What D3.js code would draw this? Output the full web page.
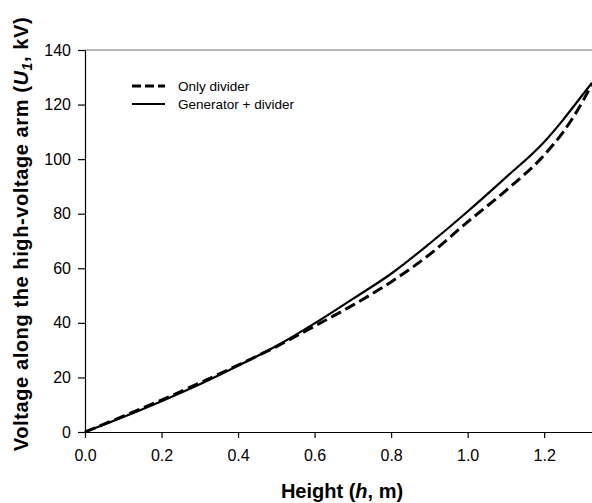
<!DOCTYPE html>
<html>
<head>
<meta charset="utf-8">
<script src="https://cdn.jsdelivr.net/npm/d3@7"></script>
<style>
  body { margin: 0; background: #fff; }
  svg text { font-family: "Liberation Sans", Arial, sans-serif; }
</style>
</head>
<body>
<div id="plot"></div>
<script>
// data
const heights = [0, 0.1, 0.2, 0.3, 0.4, 0.5, 0.6, 0.7, 0.8, 0.9, 1.0, 1.1, 1.2, 1.25, 1.3, 1.325];
const onlyDivider = [0, 5.8, 11.7, 18, 24.5, 31.3, 38.8, 46.5, 55, 65, 77, 88.5, 101.5, 110, 121, 127.5];
const generatorDivider = [0, 5.5, 11.3, 17.5, 24.3, 31.5, 39.8, 48.8, 58, 69, 80.8, 93.3, 106.3, 114.5, 123.5, 128];
const xTicks = [0, 0.2, 0.4, 0.6, 0.8, 1.0, 1.2];
const yTicks = [0, 20, 40, 60, 80, 100, 120, 140];
const legendLabels = ["Only divider", "Generator + divider"];

const width = 592,
  height = 503;
const margin = { top: 50, right: 0, bottom: 71, left: 85 };

const svg = d3.select("#plot").append("svg").attr("width", width).attr("height", height);

const x = d3.scaleLinear().domain([0, 1.325]).range([margin.left, width - margin.right]);
const y = d3.scaleLinear().domain([0, 140]).range([height - margin.bottom, margin.top]);

// top frame line
svg.append("line")
  .attr("x1", x(0)).attr("x2", width)
  .attr("y1", y(140)).attr("y2", y(140))
  .attr("stroke", "#707070").attr("stroke-width", 1.2);

const xAxis = svg.append("g")
  .attr("transform", `translate(0,${y(0)})`)
  .call(d3.axisBottom(x).tickValues(xTicks).tickFormat(d3.format(".1f")).tickSize(6).tickSizeOuter(0));
const yAxis = svg.append("g")
  .attr("transform", `translate(${x(0)},0)`)
  .call(d3.axisLeft(y).tickValues(yTicks).tickSize(7).tickSizeOuter(0));

[xAxis, yAxis].forEach(g => {
  g.select(".domain").attr("stroke", "#000").attr("stroke-width", 1.2);
  g.selectAll(".tick line").attr("stroke", "#000").attr("stroke-width", 1.2);
  g.selectAll(".tick text").attr("fill", "#000").style("font-size", "16px");
});
xAxis.selectAll(".tick text").attr("dy", "0.71em").attr("y", 18);
yAxis.selectAll(".tick text").attr("x", -14);

const line = d3.line()
  .x((d, i) => x(heights[i]))
  .y(d => y(d))
  .curve(d3.curveMonotoneX);

svg.append("path")
  .datum(generatorDivider)
  .attr("d", line)
  .attr("fill", "none").attr("stroke", "#000").attr("stroke-width", 2.2);

svg.append("path")
  .datum(onlyDivider)
  .attr("d", line)
  .attr("fill", "none").attr("stroke", "#000").attr("stroke-width", 3)
  .attr("stroke-dasharray", "11,5");

// legend
const legend = svg.append("g").attr("transform", "translate(132,86)");
legendLabels.forEach((lab, i) => {
  const row = legend.append("g").attr("transform", `translate(0,${i * 18})`);
  row.append("line")
    .attr("x1", 0).attr("x2", 33).attr("y1", 0).attr("y2", 0)
    .attr("stroke", "#000")
    .attr("stroke-width", i === 0 ? 3 : 2)
    .attr("stroke-dasharray", i === 0 ? "9,4" : null);
  row.append("text")
    .attr("x", 46).attr("y", 5)
    .style("font-size", "13.5px")
    .text(lab);
});

// axis titles
const xt = svg.append("text")
  .attr("x", 342).attr("y", 498)
  .attr("text-anchor", "middle")
  .style("font-size", "20px").style("font-weight", "bold");
xt.append("tspan").text("Height (");
xt.append("tspan").style("font-style", "italic").text("h");
xt.append("tspan").text(", m)");

const yt = svg.append("text")
  .attr("transform", "translate(28,234) rotate(-90)")
  .attr("text-anchor", "middle")
  .style("font-size", "20px").style("font-weight", "bold")
  .style("letter-spacing", "0.6px");
yt.append("tspan").text("Voltage along the high-voltage arm (");
yt.append("tspan").style("font-style", "italic").text("U");
yt.append("tspan").style("font-style", "italic").style("font-size", "14px").attr("dy", 4).text("1");
yt.append("tspan").attr("dy", -4).text(", kV)");
</script>
</body>
</html>
